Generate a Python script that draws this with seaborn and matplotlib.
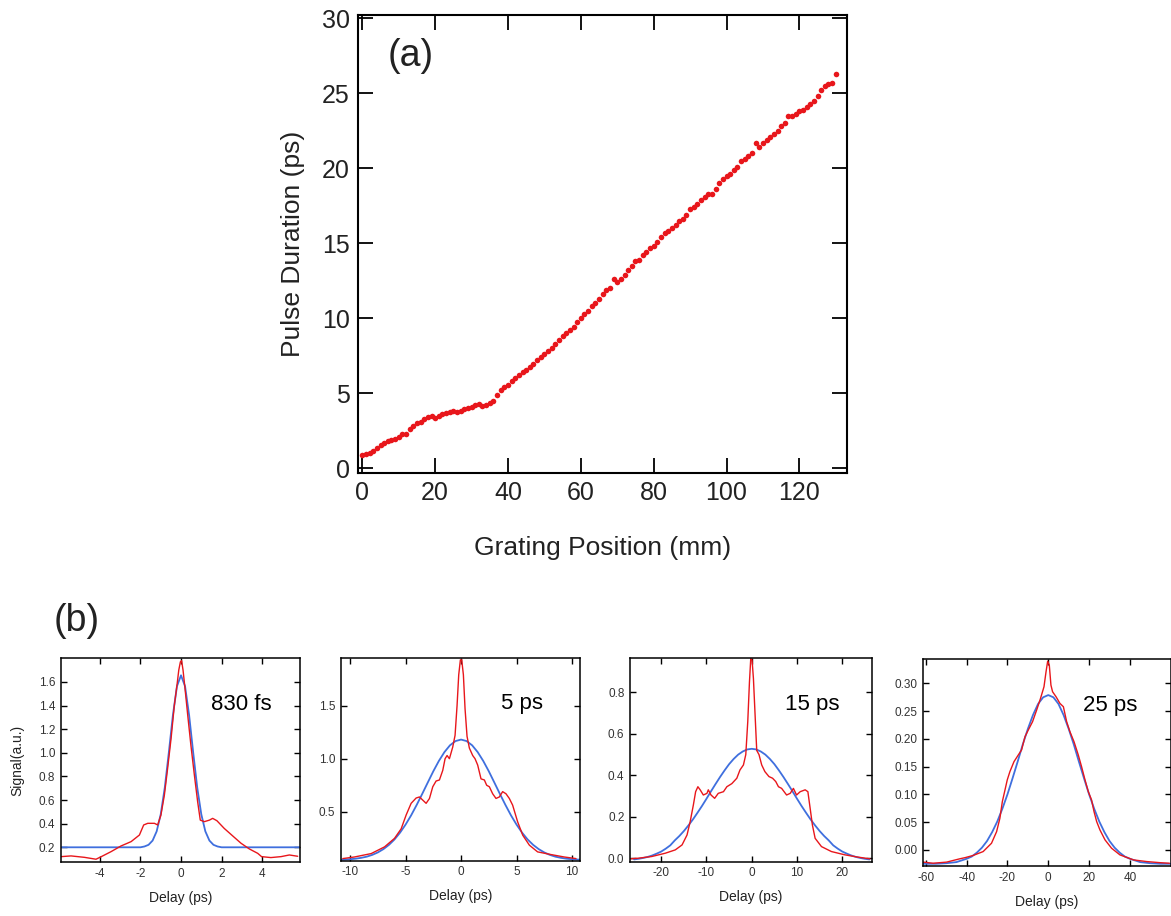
import numpy as np
import pandas as pd
import matplotlib
matplotlib.use("Agg")
import matplotlib.pyplot as plt
import seaborn as sns
from matplotlib.ticker import FormatStrFormatter

# ---------------- data: panel (a) ----------------
grating_mm = list(range(0, 131))
pulse_ps = [0.85, 0.95, 1.0, 1.15, 1.35, 1.55, 1.7, 1.8, 1.85, 1.95,
            2.05, 2.25, 2.3, 2.6, 2.8, 3.0, 3.1, 3.25, 3.4, 3.5,
            3.35, 3.45, 3.6, 3.7, 3.75, 3.8, 3.75, 3.8, 3.95, 4.0,
            4.1, 4.2, 4.3, 4.15, 4.2, 4.35, 4.5, 4.9, 5.2, 5.4,
            5.55, 5.8, 6.0, 6.2, 6.4, 6.55, 6.75, 6.95, 7.2, 7.45,
            7.6, 7.8, 8.0, 8.3, 8.55, 8.8, 9.0, 9.2, 9.45, 9.75,
            10.0, 10.3, 10.5, 10.8, 11.05, 11.3, 11.6, 11.9, 12.05, 12.6,
            12.4, 12.6, 12.9, 13.2, 13.5, 13.8, 13.9, 14.2, 14.45, 14.7,
            14.8, 15.1, 15.4, 15.7, 15.85, 16.0, 16.2, 16.5, 16.6, 16.9,
            17.3, 17.4, 17.6, 17.9, 18.1, 18.3, 18.3, 18.6, 19.0, 19.3,
            19.5, 19.6, 19.9, 20.1, 20.5, 20.6, 20.8, 21.0, 21.7, 21.4,
            21.7, 21.9, 22.1, 22.3, 22.5, 22.8, 23.0, 23.5, 23.5, 23.6,
            23.8, 23.9, 24.1, 24.3, 24.5, 24.8, 25.2, 25.5, 25.6, 25.7,
            26.3]

# ---------------- data: panel (b) ----------------
labels_b = ["830 fs", "5 ps", "15 ps", "25 ps"]

# 830 fs
red1_x = [-5.91, -5.42, -4.76, -4.19, -3.94, -3.45, -2.96, -2.46, -2.05, -1.84, -1.64, -1.31, -1.15,
          -0.99, -0.82, -0.66, -0.49, -0.33, -0.2, -0.11, -0.03, 0.03, 0.1, 0.2, 0.33, 0.49, 0.66,
          0.82, 0.95, 1.15, 1.4, 1.56, 1.77, 2.13, 2.55, 2.96, 3.37, 3.78, 3.97, 4.43, 4.93, 5.34, 5.75]
red1_y = [0.121, 0.127, 0.115, 0.099, 0.12, 0.163, 0.211, 0.248, 0.304, 0.389, 0.403, 0.403, 0.389,
          0.473, 0.642, 0.868, 1.121, 1.40, 1.57, 1.70, 1.77, 1.78, 1.70, 1.54, 1.32, 1.06, 0.81,
          0.586, 0.43, 0.417, 0.43, 0.445, 0.425, 0.36, 0.296, 0.234, 0.186, 0.149, 0.121, 0.113,
          0.121, 0.135, 0.124]
blue1_x = [-5.9, -2.0, -1.8, -1.6, -1.4, -1.2, -1.0, -0.8, -0.6, -0.4, -0.2, 0.0,
           0.2, 0.4, 0.6, 0.8, 1.0, 1.2, 1.4, 1.6, 1.8, 2.0, 5.9]
blue1_y = [0.2, 0.2, 0.207, 0.221, 0.257, 0.335, 0.479, 0.705, 1.003, 1.318, 1.563, 1.656,
           1.563, 1.318, 1.003, 0.705, 0.479, 0.335, 0.257, 0.221, 0.207, 0.2, 0.2]

# 5 ps
red2_x = [-10.66, -9.61, -8.1, -6.9, -6.0, -5.4, -4.95, -4.5, -4.05, -3.75, -3.45, -3.15, -2.85,
          -2.55, -2.25, -1.95, -1.65, -1.44, -1.26, -1.05, -0.75, -0.54, -0.36, -0.21, -0.06, 0.06,
          0.21, 0.36, 0.54, 0.75, 1.05, 1.26, 1.5, 1.8, 2.1, 2.31, 2.55, 2.85, 3.15, 3.45, 3.75,
          4.05, 4.35, 4.65, 5.1, 5.56, 6.16, 6.9, 8.1, 9.3, 10.36]
red2_y = [0.06, 0.075, 0.107, 0.17, 0.25, 0.34, 0.47, 0.58, 0.63, 0.64, 0.61, 0.58, 0.625,
          0.736, 0.79, 0.80, 0.89, 1.0, 1.03, 1.0, 1.11, 1.22, 1.5, 1.79, 1.93, 1.93,
          1.79, 1.47, 1.21, 1.10, 1.03, 1.0, 0.94, 0.81, 0.80, 0.75, 0.736, 0.67, 0.626, 0.64, 0.69,
          0.67, 0.626, 0.563, 0.406, 0.28, 0.186, 0.123, 0.098, 0.075, 0.06]
blue2_x = [-10.8, -10, -9.5, -9, -8.5, -8, -7.5, -7, -6.5, -6, -5.5, -5, -4.5, -4, -3.5, -3,
           -2.5, -2, -1.5, -1, -0.5, 0, 0.5, 1, 1.5, 2, 2.5, 3, 3.5, 4, 4.5, 5, 5.5, 6, 6.5,
           7, 7.5, 8, 8.5, 9, 9.5, 10, 10.8]
blue2_y = [0.049, 0.054, 0.059, 0.067, 0.078, 0.095, 0.118, 0.149, 0.189, 0.240, 0.304, 0.380,
           0.467, 0.565, 0.669, 0.776, 0.882, 0.979, 1.062, 1.126, 1.166, 1.18, 1.166, 1.126,
           1.062, 0.979, 0.882, 0.776, 0.669, 0.565, 0.467, 0.380, 0.304, 0.240, 0.189, 0.149,
           0.118, 0.095, 0.078, 0.067, 0.059, 0.054, 0.049]

# 15 ps
red3_x = [-26.8, -25, -22.1, -19.1, -16.9, -15.4, -14.3, -13.6, -12.9, -12.4, -11.9, -11.4, -10.7,
          -9.9, -9.6, -9.0, -8.2, -7.4, -6.25, -5.5, -4.4, -3.3, -2.6, -1.84, -1.32, -0.88, -0.51,
          -0.22, 0.07, 0.37, 0.74, 1.1, 1.6, 2.2, 2.9, 3.8, 4.6, 5.3, 5.9, 6.6, 7.7, 8.5, 9.2, 9.9,
          10.7, 11.8, 12.4, 12.9, 13.4, 14.0, 15.4, 17.6, 20.6, 23.5, 26.1]
red3_y = [-0.003, 0.0, 0.008, 0.024, 0.04, 0.064, 0.112, 0.177, 0.257, 0.321, 0.345, 0.33, 0.305,
          0.313, 0.33, 0.305, 0.289, 0.313, 0.321, 0.345, 0.36, 0.386, 0.426, 0.45, 0.50, 0.66, 0.85,
          0.964, 0.956, 0.867, 0.69, 0.52, 0.50, 0.45, 0.418, 0.394, 0.386, 0.37, 0.345, 0.337,
          0.305, 0.313, 0.337, 0.305, 0.321, 0.33, 0.321, 0.241, 0.16, 0.096, 0.056, 0.032, 0.016,
          0.005, -0.003]
blue3_x = [-26, -25, -24, -23, -22, -21, -20, -19, -18, -17, -16, -15, -14, -13, -12, -11, -10,
           -9, -8, -7, -6, -5, -4, -3, -2, -1, 0, 1, 2, 3, 4, 5, 6, 7, 8, 9, 10, 11, 12, 13, 14,
           15, 16, 17, 18, 19, 20, 21, 22, 23, 24, 25, 26]
blue3_y = [-0.006, -0.003, 0.001, 0.006, 0.013, 0.022, 0.032, 0.046, 0.062, 0.086, 0.107, 0.131,
           0.158, 0.187, 0.219, 0.252, 0.287, 0.323, 0.358, 0.392, 0.424, 0.454, 0.479, 0.500,
           0.515, 0.525, 0.528, 0.525, 0.515, 0.500, 0.479, 0.454, 0.424, 0.392, 0.358, 0.323,
           0.287, 0.252, 0.219, 0.187, 0.158, 0.131, 0.107, 0.086, 0.062, 0.046, 0.032, 0.022,
           0.013, 0.006, 0.001, -0.003, -0.006]

# 25 ps
red4_x = [-61.3, -56.4, -49.8, -43.3, -40.8, -36.8, -31.9, -27.8, -25.3, -23.7, -22.5, -21.2, -20.1,
          -18.8, -16.8, -14.7, -13.1, -11.4, -9.8, -7.7, -5.7, -3.8, -2.1, -1.1, -0.3, 0.5, 1.3,
          2.1, 3.8, 5.7, 7.4, 9.0, 10.6, 12.6, 14.7, 16.3, 18.0, 19.6, 21.2, 22.4, 23.7, 25.3, 27.8,
          31.0, 35.1, 41.7, 48.2, 54.7, 59.3]
red4_y = [-0.022, -0.024, -0.022, -0.016, -0.014, -0.010, -0.003, 0.012, 0.033, 0.057, 0.087, 0.108,
          0.126, 0.141, 0.159, 0.171, 0.18, 0.204, 0.216, 0.231, 0.252, 0.273, 0.294, 0.321, 0.34,
          0.333, 0.297, 0.285, 0.276, 0.264, 0.258, 0.231, 0.213, 0.195, 0.171, 0.15, 0.126, 0.105,
          0.09, 0.069, 0.051, 0.036, 0.018, 0.003, -0.009, -0.018, -0.021, -0.023, -0.024]
blue4_x = [-61, -55, -50, -45, -40, -37.5, -35, -32.5, -30, -27.5, -25, -22.5, -20, -17.5, -15,
           -12.5, -10, -7.5, -5, -2.5, 0, 2.5, 5, 7.5, 10, 12.5, 15, 17.5, 20, 22.5, 25, 27.5,
           30, 32.5, 35, 37.5, 40, 45, 50, 55, 60]
blue4_y = [-0.025, -0.025, -0.024, -0.022, -0.016, -0.012, -0.005, 0.004, 0.016, 0.032, 0.051,
           0.074, 0.100, 0.129, 0.159, 0.190, 0.218, 0.243, 0.263, 0.275, 0.279, 0.275, 0.263,
           0.243, 0.218, 0.190, 0.159, 0.129, 0.100, 0.074, 0.051, 0.032, 0.016, 0.004, -0.005,
           -0.012, -0.016, -0.022, -0.024, -0.025, -0.025]

# ---------------- style ----------------
sns.set_theme(style="ticks")
plt.rcParams["font.family"] = ["Liberation Sans", "DejaVu Sans"]
plt.rcParams["axes.unicode_minus"] = False
TXT = "#222222"
RED = "#e8161b"
BLUE = "#3f6fde"

fig = plt.figure(figsize=(11.71, 9.16), dpi=100)
W, H = 1171.0, 916.0

def ax_px(l, t, r, b):
    return fig.add_axes([l / W, 1 - b / H, (r - l) / W, (b - t) / H])

# ---------------- panel (a) ----------------
axa = ax_px(358.3, 14.7, 846.7, 472.7)
df_a = pd.DataFrame({"x": grating_mm, "y": pulse_ps})
sns.scatterplot(data=df_a, x="x", y="y", ax=axa, color=RED, s=16, linewidth=0, legend=False)
axa.set_xlim(-1.1, 133)
axa.set_ylim(-0.3, 30.25)
axa.set_xticks(range(0, 121, 20))
axa.set_yticks(range(0, 31, 5))
axa.tick_params(direction="in", length=11, width=1.3, top=True, right=True,
                labelsize=18, colors="black", labelcolor=TXT, pad=6)
for sp in axa.spines.values():
    sp.set_linewidth(1.5)
    sp.set_color("black")
axa.set_xlabel("Grating Position (mm)", fontsize=19, color=TXT, labelpad=22)
axa.set_ylabel("Pulse Duration (ps)", fontsize=19, color=TXT, labelpad=12)
axa.text(0.108, 0.91, "(a)", transform=axa.transAxes, fontsize=27, color=TXT,
         ha="center", va="center")

# ---------------- panel (b) ----------------
boxes = [(60.7, 658.3, 300.3, 862.3),
         (340.7, 658.3, 580.3, 860.7),
         (630.0, 658.3, 871.7, 861.7),
         (922.7, 659.0, 1171.0, 866.0)]
reds = [(red1_x, red1_y), (red2_x, red2_y), (red3_x, red3_y), (red4_x, red4_y)]
blues = [(blue1_x, blue1_y), (blue2_x, blue2_y), (blue3_x, blue3_y), (blue4_x, blue4_y)]
xlims = [(-5.93, 5.88), (-10.85, 10.75), (-26.9, 26.5), (-61.5, 60.1)]
ylims = [(0.073, 1.80), (0.04, 1.945), (-0.017, 0.965), (-0.029, 0.344)]
xticks = [[-4, -2, 0, 2, 4], [-10, -5, 0, 5, 10], [-20, -10, 0, 10, 20], [-60, -40, -20, 0, 20, 40]]
yticks = [[0.2, 0.4, 0.6, 0.8, 1.0, 1.2, 1.4, 1.6], [0.5, 1.0, 1.5],
          [0.0, 0.2, 0.4, 0.6, 0.8], [0.0, 0.05, 0.10, 0.15, 0.20, 0.25, 0.30]]
yfmts = ["%.1f", "%.1f", "%.1f", "%.2f"]

for i in range(4):
    ax = ax_px(*boxes[i])
    rx, ry = reds[i]
    bx, by = blues[i]
    sns.lineplot(x=bx, y=by, ax=ax, color=BLUE, linewidth=1.3, estimator=None, sort=False)
    sns.lineplot(x=rx, y=ry, ax=ax, color=RED, linewidth=1.0, estimator=None, sort=False)
    ax.set_xlim(*xlims[i])
    ax.set_ylim(*ylims[i])
    ax.set_xticks(xticks[i])
    ax.set_yticks(yticks[i])
    ax.yaxis.set_major_formatter(FormatStrFormatter(yfmts[i]))
    ax.tick_params(direction="in", length=4, width=1.0, top=True, right=True,
                   labelsize=8.5, colors="black", labelcolor="#333333", pad=4)
    for sp in ax.spines.values():
        sp.set_linewidth(1.1)
        sp.set_color("black")
    ax.set_xlabel("Delay (ps)", fontsize=10, color=TXT, labelpad=8)
    ax.set_ylabel("Signal(a.u.)" if i == 0 else "", fontsize=10, color=TXT, labelpad=10)
    ax.text(0.755, 0.775, labels_b[i], transform=ax.transAxes, fontsize=16,
            color="black", ha="center", va="center")

fig.text(77 / W, 1 - 621 / H, "(b)", fontsize=27, color=TXT, ha="center", va="center")

fig.savefig("out.png", dpi=100)
